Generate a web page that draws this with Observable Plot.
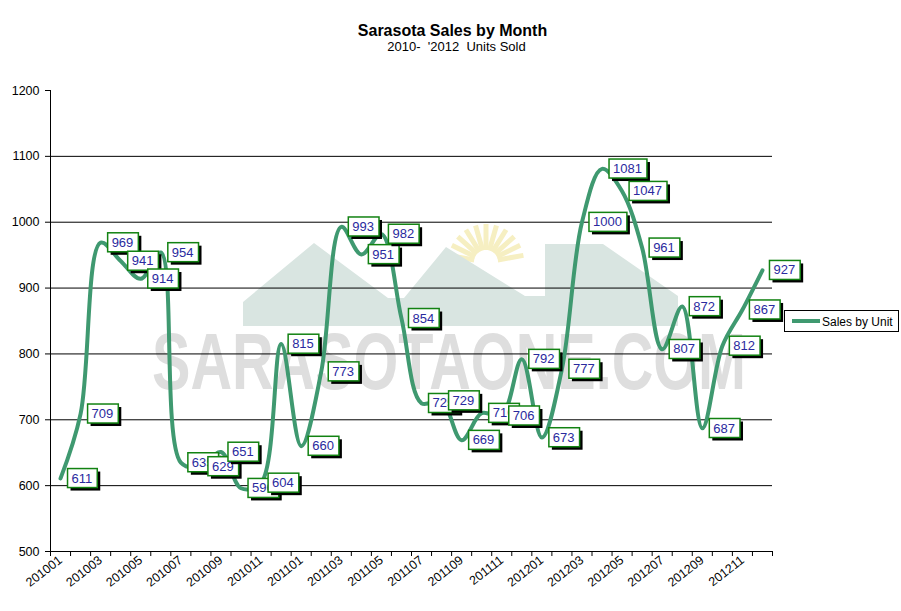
<!DOCTYPE html>
<html lang="en">
<head>
<meta charset="UTF-8">
<title>Sarasota Sales by Month</title>
<script src="https://cdn.jsdelivr.net/npm/d3@7"></script>
<script src="https://cdn.jsdelivr.net/npm/@observablehq/plot@0.6"></script>
<style>
  body { margin: 0; background: #fff; }
  #chart svg { display: block; }
</style>
</head>
<body>
<div id="chart"></div>
<script>
// months 2010-01 .. 2012-12 and units sold
const months = [
  "201001","201002","201003","201004","201005","201006","201007","201008","201009","201010","201011","201012",
  "201101","201102","201103","201104","201105","201106","201107","201108","201109","201110","201111","201112",
  "201201","201202","201203","201204","201205","201206","201207","201208","201209","201210","201211","201212"
];
const sales = [
  611, 709, 969, 941, 914, 954, 635, 629, 651, 596, 604, 815,
  660, 773, 993, 951, 982, 854, 725, 729, 669, 710, 706, 792,
  673, 777, 1000, 1081, 1047, 961, 807, 872, 687, 812, 867, 927
];
const yTicks = [500, 600, 700, 800, 900, 1000, 1100, 1200];
const gridLines = [600, 700, 800, 900, 1000, 1100];

const lineColor = "#3f9970";
const font = "'Liberation Sans', Arial, sans-serif";

const data = months.map((m, i) => ({i, month: m, sales: sales[i]}));

const plot = Plot.plot({
  width: 901,
  height: 611,
  marginLeft: 50,
  marginRight: 129,
  marginTop: 90,
  marginBottom: 60,
  style: {fontFamily: font, fontSize: "12px", color: "#000", background: "#fff"},
  x: {type: "linear", domain: [-0.5, months.length - 0.5]},
  y: {domain: [500, 1200]},
  marks: [
    Plot.ruleY(gridLines, {stroke: "#000", strokeWidth: 1}),
    Plot.ruleY([500], {stroke: "#000"}),
    Plot.ruleX([-0.5], {stroke: "#000"}),
    Plot.axisY({ticks: yTicks, tickSize: 5, tickPadding: 6, tickFormat: d => String(d), label: null, fontSize: 12.5}),
    // boundary tick marks between months
    Plot.axisX({ticks: d3.range(-0.5, months.length), tickSize: 5, tickFormat: () => "", label: null}),
    // every other month label
    Plot.axisX({ticks: d3.range(0, months.length, 2), tickSize: 0, tickPadding: 7,
      tickFormat: i => months[i], tickRotate: -38, label: null, fontSize: 12.5}),
    Plot.line(data, {x: "i", y: "sales", curve: "catmull-rom", stroke: lineColor, strokeWidth: 4}),
    Plot.text(data, {x: "i", y: "sales", text: d => String(d.sales), textAnchor: "start", dx: 11,
      fill: "#2a2a9e", fontSize: 13, className: "vlabel"}),
    Plot.text(["Sarasota Sales by Month"], {frameAnchor: "top", dx: 41, dy: -66, fontWeight: "bold", fontSize: 16}),
    Plot.text(["2010-\u00a0 '2012\u00a0 Units Sold"], {frameAnchor: "top", dx: 45, dy: -49, fontSize: 13})
  ]
});

document.querySelector("#chart").append(plot);

const svg = d3.select(plot);

// boxes with drop shadows behind each value label
plot.querySelectorAll("g.vlabel text").forEach(t => {
  const b = t.getBBox();
  const tr = t.getAttribute("transform") || "";
  const mk = (dx, fill, stroke) => {
    const r = document.createElementNS("http://www.w3.org/2000/svg", "rect");
    r.setAttribute("x", b.x - 4 + dx);
    r.setAttribute("y", b.y - 2 + dx);
    r.setAttribute("width", b.width + 9);
    r.setAttribute("height", b.height + 4);
    r.setAttribute("fill", fill);
    if (stroke) { r.setAttribute("stroke", stroke); r.setAttribute("stroke-width", 1.5); }
    if (tr) r.setAttribute("transform", tr);
    t.parentNode.insertBefore(r, t);
  };
  mk(3, "#000", null);
  mk(0, "#fff", "#128212");
});

// faint watermark behind the chart
const wm = svg.insert("g", ":first-child").attr("class", "watermark");
const cx = 486, cy = 262;
d3.range(-80, 81, 16).forEach(a => {
  const r = a * Math.PI / 180;
  wm.append("line")
    .attr("x1", cx + 12 * Math.sin(r)).attr("y1", cy - 12 * Math.cos(r))
    .attr("x2", cx + 38 * Math.sin(r)).attr("y2", cy - 38 * Math.cos(r))
    .attr("stroke", "#f6efc2").attr("stroke-width", 5);
});
wm.append("polygon")
  .attr("points", [[243,326],[243,302],[314,243],[388,298],[404,298],[446,247],[525,296],[545,296],[545,244],[603,244],[678,296],[678,326]].join(" "))
  .attr("fill", "#d9e5e1");
wm.append("text")
  .attr("x", 152).attr("y", 389)
  .attr("text-anchor", "start")
  .attr("font-family", font).attr("font-size", 80).attr("font-weight", "bold")
  .attr("textLength", 594).attr("lengthAdjust", "spacingAndGlyphs")
  .attr("fill", "#dedede")
  .text("SARASOTAONE.COM");

// legend
const lg = svg.append("g").attr("class", "legend");
lg.append("rect").attr("x", 784.5).attr("y", 310.5).attr("width", 114).attr("height", 21)
  .attr("fill", "#fff").attr("stroke", "#000");
lg.append("line").attr("x1", 792).attr("x2", 820).attr("y1", 321).attr("y2", 321)
  .attr("stroke", lineColor).attr("stroke-width", 4);
lg.append("text").attr("x", 822).attr("y", 325.5).attr("text-anchor", "start")
  .attr("font-family", font).attr("font-size", 12)
  .text("Sales by Unit");
</script>
</body>
</html>
